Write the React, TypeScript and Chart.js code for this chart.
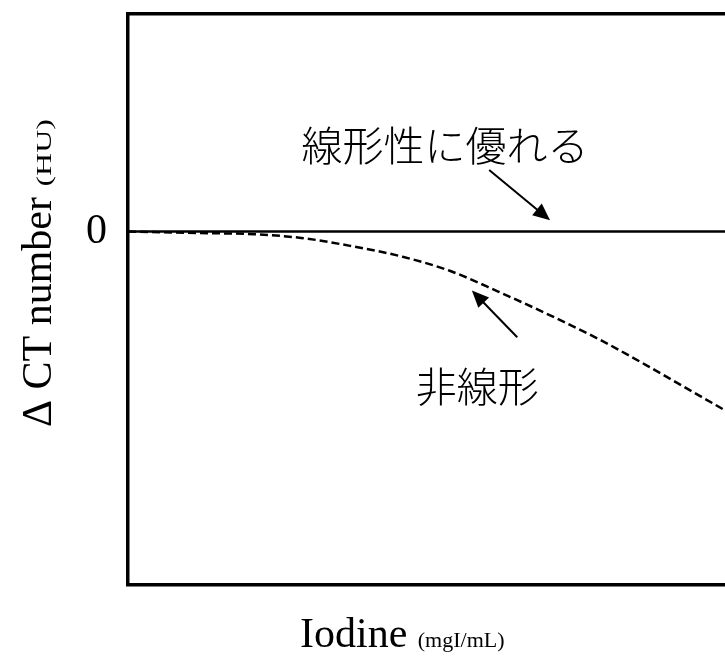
import React, { useEffect, useRef } from "react";
import { Chart, registerables } from "chart.js";

Chart.register(...registerables);

// ---- data ----
const curveX = [0, 12, 21, 29, 37, 46, 54, 62, 71, 79, 87, 96, 100];
const curveY = [0, -0.25, -0.45, -1.1, -2.45, -4.4, -6.9, -10.5, -14.8, -18.9, -23.5, -28.9, -31.3];
const linearX = [0, 100];
const linearY = [0, 0];
const yTickValues = [0];
const yTickLabels = ["0"];
const xRange = [0, 100];
const yRange = [-61.8, 38.2];

const xTitleMain = "Iodine";
const xTitleUnit = "(mgI/mL)";
const yTitleMain = "Δ CT number";
const yTitleUnit = "(HU)";

const labelTexts = ["線形性に優れる", "非線形"];
const labelX = [53.1, 58.5];
const labelY = [15.15, -27.1];
const arrowFromX = [60.5, 65.2];
const arrowFromY = [10.8, -18.5];
const arrowToX = [70.7, 57.6];
const arrowToY = [2.0, -10.3];

const SERIF = '"Liberation Serif", "Times New Roman", serif';
const CJK = '"Noto Sans CJK JP", "Noto Sans CJK SC", sans-serif';

const overlayPlugin = {
  id: "overlay",
  afterDraw(chart: any) {
    const ctx = chart.ctx as CanvasRenderingContext2D;
    const xs = chart.scales.x;
    const ys = chart.scales.y;
    const area = chart.chartArea;
    ctx.save();
    ctx.fillStyle = "#000";
    ctx.strokeStyle = "#000";

    // arrows
    for (let i = 0; i < arrowFromX.length; i++) {
      const x1 = xs.getPixelForValue(arrowFromX[i]);
      const y1 = ys.getPixelForValue(arrowFromY[i]);
      const x2 = xs.getPixelForValue(arrowToX[i]);
      const y2 = ys.getPixelForValue(arrowToY[i]);
      const ang = Math.atan2(y2 - y1, x2 - x1);
      const hl = 17;
      const hw = 7.5;
      const bx = x2 - hl * Math.cos(ang);
      const by = y2 - hl * Math.sin(ang);
      ctx.lineWidth = 2;
      ctx.beginPath();
      ctx.moveTo(x1, y1);
      ctx.lineTo(bx + Math.cos(ang) * 2, by + Math.sin(ang) * 2);
      ctx.stroke();
      ctx.beginPath();
      ctx.moveTo(x2, y2);
      ctx.lineTo(bx + hw * Math.sin(ang), by - hw * Math.cos(ang));
      ctx.lineTo(bx - hw * Math.sin(ang), by + hw * Math.cos(ang));
      ctx.closePath();
      ctx.fill();
    }

    // annotation labels
    ctx.textAlign = "center";
    ctx.textBaseline = "middle";
    ctx.font = `300 41px ${CJK}`;
    for (let i = 0; i < labelTexts.length; i++) {
      ctx.fillText(labelTexts[i], xs.getPixelForValue(labelX[i]), ys.getPixelForValue(labelY[i]));
    }

    // x axis title
    ctx.textAlign = "left";
    ctx.textBaseline = "alphabetic";
    ctx.font = `42px ${SERIF}`;
    const xStart = area.left + 172;
    const xBase = area.bottom + 62.5;
    ctx.fillText(xTitleMain, xStart, xBase);
    const mainW = ctx.measureText(xTitleMain + " ").width;
    ctx.font = `22px ${SERIF}`;
    ctx.fillText(xTitleUnit, xStart + mainW, xBase);

    // y axis title (rotated)
    ctx.save();
    ctx.translate(51, area.bottom - 157.5);
    ctx.rotate(-Math.PI / 2);
    ctx.font = `42px ${SERIF}`;
    ctx.fillText(yTitleMain, 0, 0);
    const yMainW = ctx.measureText(yTitleMain + " ").width;
    ctx.translate(yMainW, 0);
    ctx.scale(1.45, 1);
    ctx.font = `22px ${SERIF}`;
    ctx.fillText(yTitleUnit, 0, 0);
    ctx.restore();

    ctx.restore();
  },
};

export default function App() {
  const ref = useRef<HTMLCanvasElement | null>(null);

  useEffect(() => {
    if (!ref.current) return;
    const chart = new Chart(ref.current, {
      type: "line",
      data: {
        datasets: [
          {
            label: "linear",
            data: linearX.map((x, i) => ({ x, y: linearY[i] })),
            borderColor: "#000",
            borderWidth: 2.5,
            pointRadius: 0,
            fill: false,
          },
          {
            label: "nonlinear",
            data: curveX.map((x, i) => ({ x, y: curveY[i] })),
            borderColor: "#000",
            borderWidth: 2.5,
            borderDash: [8, 4],
            pointRadius: 0,
            cubicInterpolationMode: "monotone",
            fill: false,
          },
        ],
      },
      options: {
        responsive: false,
        animation: false,
        layout: { padding: 0 },
        plugins: {
          legend: { display: false },
          tooltip: { enabled: false },
          title: { display: false },
        },
        scales: {
          x: {
            type: "linear",
            position: "bottom",
            min: xRange[0],
            max: xRange[1],
            grid: { display: false, drawTicks: false },
            border: { display: true, color: "#000", width: 3.5 },
            ticks: { display: false },
            afterFit: (s: any) => {
              s.height = 72.5;
              s.paddingLeft = 0;
              s.paddingRight = 0;
            },
          },
          x2: {
            type: "linear",
            position: "top",
            min: xRange[0],
            max: xRange[1],
            grid: { display: false, drawTicks: false },
            border: { display: true, color: "#000", width: 3.5 },
            ticks: { display: false },
            afterFit: (s: any) => {
              s.height = 13.5;
              s.paddingLeft = 0;
              s.paddingRight = 0;
            },
          },
          y: {
            type: "linear",
            position: "left",
            min: yRange[0],
            max: yRange[1],
            grid: { display: false, drawTicks: false },
            border: { display: true, color: "#000", width: 3.5 },
            afterBuildTicks: (s: any) => {
              s.ticks = yTickValues.map((v) => ({ value: v }));
            },
            ticks: {
              color: "#000",
              padding: 21,
              font: { family: SERIF, size: 42 },
              callback: (v: any) => {
                const idx = yTickValues.indexOf(Number(v));
                return idx >= 0 ? yTickLabels[idx] : "";
              },
            },
            afterFit: (s: any) => {
              s.width = 128;
              s.paddingTop = 0;
              s.paddingBottom = 0;
            },
          },
        },
      } as any,
      plugins: [overlayPlugin],
    });
    return () => chart.destroy();
  }, []);

  return (
    <div style={{ position: "absolute", left: 0, top: 0, width: 725, height: 657, overflow: "hidden", background: "#fff" }}>
      <canvas ref={ref} width={725} height={657} style={{ display: "block", width: 725, height: 657 }} />
    </div>
  );
}
